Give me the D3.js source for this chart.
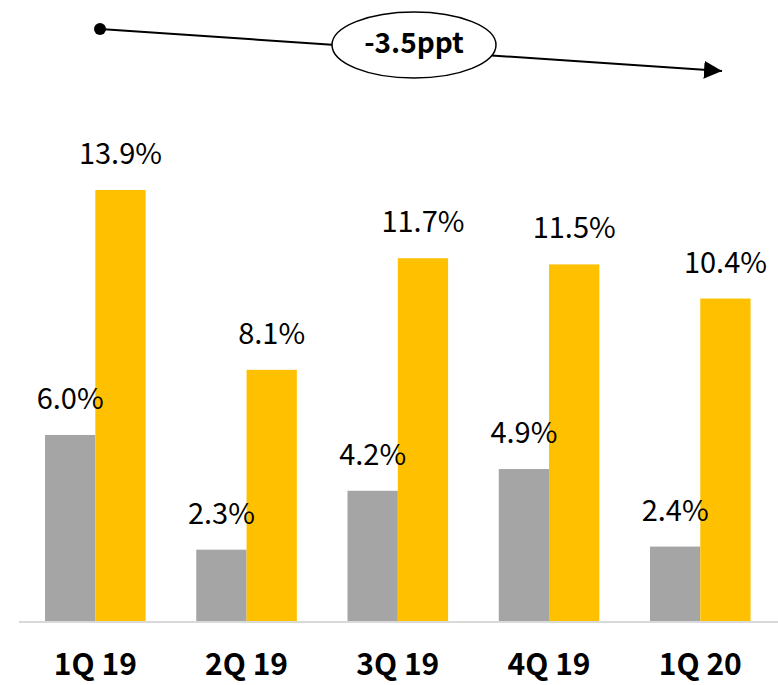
<!DOCTYPE html>
<html>
<head>
<meta charset="utf-8">
<script src="https://cdn.jsdelivr.net/npm/d3@7"></script>
<style>
  body { margin: 0; background: #fff; }
  text { font-family: "Noto Sans CJK KR", "Noto Sans", sans-serif; }
</style>
</head>
<body>
<svg id="chart"></svg>
<script>
const width = 778;
const height = 685;

// data
const categories = ["1Q 19", "2Q 19", "3Q 19", "4Q 19", "1Q 20"];
const grayValues = [6.0, 2.3, 4.2, 4.9, 2.4];
const yellowValues = [13.9, 8.1, 11.7, 11.5, 10.4];
const seriesNames = ["gray", "yellow"];
const changeLabel = "-3.5ppt";

const colors = { gray: "#a5a5a5", yellow: "#ffc000" };

const svg = d3.select("#chart")
  .attr("width", width)
  .attr("height", height);

const baseline = 621;

const x = d3.scaleBand()
  .domain(categories)
  .range([19.7, 775.9])
  .paddingInner(0.335)
  .paddingOuter(0.1675);

const xs = d3.scaleBand()
  .domain(seriesNames)
  .range([0, x.bandwidth()]);

const y = d3.scaleLinear()
  .domain([0, 13.9])
  .range([baseline, 190]);

const rows = categories.map((c, i) => ({
  cat: c,
  vals: [
    { key: "gray", v: grayValues[i] },
    { key: "yellow", v: yellowValues[i] }
  ]
}));

const groups = svg.append("g")
  .selectAll("g")
  .data(rows)
  .join("g")
  .attr("transform", d => `translate(${x(d.cat)},0)`);

groups.selectAll("rect")
  .data(d => d.vals)
  .join("rect")
  .attr("x", d => xs(d.key))
  .attr("y", d => y(d.v))
  .attr("width", xs.bandwidth())
  .attr("height", d => baseline - y(d.v))
  .attr("fill", d => colors[d.key]);

groups.selectAll("text.val")
  .data(d => d.vals)
  .join("text")
  .attr("class", "val")
  .attr("x", d => xs(d.key) + xs.bandwidth() / 2)
  .attr("y", d => y(d.v) - 26)
  .attr("text-anchor", "middle")
  .attr("font-size", 29)
  .attr("fill", "#000")
  .text(d => d.v.toFixed(1) + "%");

// axis line
svg.append("line")
  .attr("x1", 19).attr("x2", 778)
  .attr("y1", baseline + 1).attr("y2", baseline + 1)
  .attr("stroke", "#d9d9d9")
  .attr("stroke-width", 2);

// category labels
const xAxis = svg.append("g")
  .attr("transform", `translate(0,${baseline})`)
  .call(d3.axisBottom(x).tickSize(0).tickPadding(0));
xAxis.select(".domain").remove();
xAxis.selectAll("text")
  .attr("y", 54)
  .attr("dy", 0)
  .attr("font-size", 30)
  .attr("font-weight", "bold")
  .attr("font-family", "\"Noto Sans CJK KR\", sans-serif")
  .attr("fill", "#000");

// trend arrow
svg.append("defs").append("marker")
  .attr("id", "arrow")
  .attr("viewBox", "0 0 10 10")
  .attr("refX", 10).attr("refY", 5)
  .attr("markerWidth", 18).attr("markerHeight", 18)
  .attr("markerUnits", "userSpaceOnUse")
  .attr("orient", "auto")
  .append("path")
  .attr("d", "M0,0 L10,5 L0,10 Z")
  .attr("fill", "#000");

svg.append("line")
  .attr("x1", 100).attr("y1", 29)
  .attr("x2", 722).attr("y2", 71)
  .attr("stroke", "#000")
  .attr("stroke-width", 2)
  .attr("marker-end", "url(#arrow)");

svg.append("circle")
  .attr("cx", 100).attr("cy", 29)
  .attr("r", 6)
  .attr("fill", "#000");

svg.append("ellipse")
  .attr("cx", 414).attr("cy", 45)
  .attr("rx", 82).attr("ry", 33)
  .attr("fill", "#fff")
  .attr("stroke", "#000")
  .attr("stroke-width", 1.5);

svg.append("text")
  .attr("x", 414).attr("y", 53)
  .attr("text-anchor", "middle")
  .attr("font-size", 28)
  .attr("font-weight", "bold")
  .text(changeLabel);
</script>
</body>
</html>
